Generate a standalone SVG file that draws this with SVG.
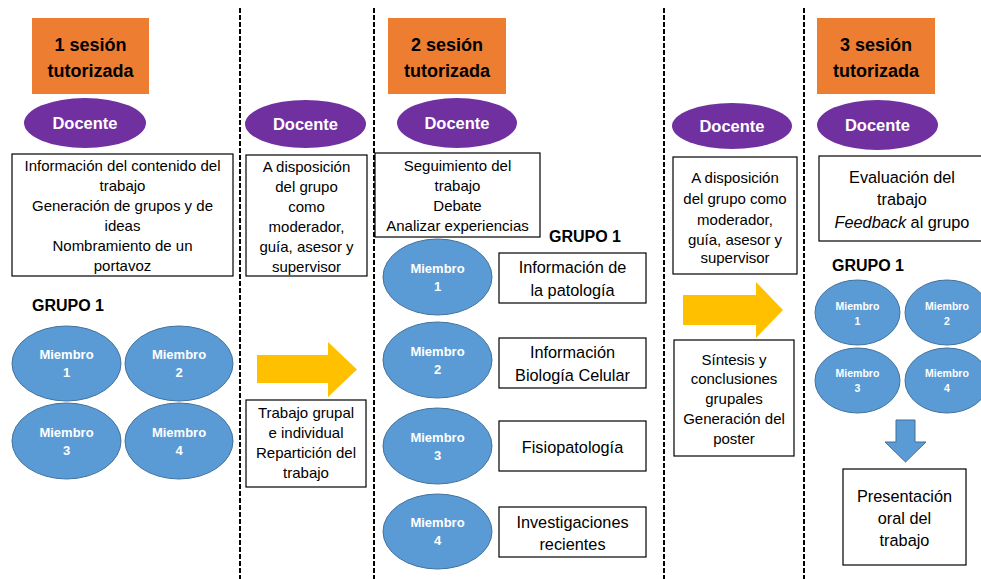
<svg xmlns="http://www.w3.org/2000/svg" width="981" height="579" viewBox="0 0 981 579">
<style>
text{font-family:"Liberation Sans",Arial,sans-serif;text-anchor:middle;fill:#000}
.ses{fill:#ED7D31}
.st{font-weight:bold;font-size:18px}
.doc{fill:#7030A0}
.dt{fill:#fff;font-weight:bold;font-size:16.5px}
.box{fill:#fff;stroke:#000;stroke-width:1.2}
.t{font-size:15px}
.t2{font-size:16.3px}
.mem{fill:#5B9BD5;stroke:#41719C;stroke-width:1}
.mt{fill:#fff;font-weight:bold;font-size:13px}
.ms{fill:#fff;font-weight:bold;font-size:10.5px}
.g{font-weight:bold;font-size:16px}
.dash{stroke:#000;stroke-width:2;stroke-dasharray:5,2;fill:none}
.ya{fill:#FFC000}
.ba{fill:#5B9BD5;stroke:#41719C;stroke-width:1}
</style>
<rect width="981" height="579" fill="#fff"/>
<g id="dividers">
<line class="dash" x1="240" y1="8" x2="240" y2="579"/>
<line class="dash" x1="374" y1="8" x2="374" y2="579"/>
<line class="dash" x1="664" y1="8" x2="664" y2="579"/>
<line class="dash" x1="804" y1="8" x2="804" y2="579"/>
</g>
<g id="sesion1">
<rect class="ses" x="32" y="18" width="117" height="76"/>
<text class="st" x="90.5" y="51">1 sesión</text>
<text class="st" x="90.5" y="77">tutorizada</text>
</g>
<g id="docente1">
<ellipse class="doc" cx="85" cy="123" rx="61" ry="25"/>
<text class="dt" x="85" y="129">Docente</text>
</g>
<g id="info1">
<rect class="box" x="12" y="154" width="221" height="122"/>
<text class="t" x="122.5" y="171">Información del contenido del</text>
<text class="t" x="122.5" y="191">trabajo</text>
<text class="t" x="122.5" y="211">Generación de grupos y de</text>
<text class="t" x="122.5" y="231">ideas</text>
<text class="t" x="122.5" y="251">Nombramiento de un</text>
<text class="t" x="122.5" y="271">portavoz</text>
</g>
<g id="grupo1a">
<text class="g" x="68" y="311">GRUPO 1</text>
<ellipse class="mem" cx="66.5" cy="363.5" rx="54.5" ry="37.5"/>
<text class="mt" x="66.5" y="359">Miembro</text><text class="mt" x="66.5" y="377">1</text>
<ellipse class="mem" cx="179" cy="363.5" rx="54" ry="37.5"/>
<text class="mt" x="179" y="359">Miembro</text><text class="mt" x="179" y="377">2</text>
<ellipse class="mem" cx="66.5" cy="441" rx="54.5" ry="38"/>
<text class="mt" x="66.5" y="437">Miembro</text><text class="mt" x="66.5" y="455">3</text>
<ellipse class="mem" cx="179" cy="441" rx="54" ry="38"/>
<text class="mt" x="179" y="437">Miembro</text><text class="mt" x="179" y="455">4</text>
</g>
<g id="docente2">
<ellipse class="doc" cx="305.5" cy="124" rx="60.5" ry="24"/>
<text class="dt" x="305.5" y="130">Docente</text>
</g>
<g id="info2">
<rect class="box" x="246" y="155" width="121" height="121"/>
<text class="t" x="306.5" y="172">A disposición</text>
<text class="t" x="306.5" y="192">del grupo</text>
<text class="t" x="306.5" y="212">como</text>
<text class="t" x="306.5" y="232">moderador,</text>
<text class="t" x="306.5" y="252">guía, asesor y</text>
<text class="t" x="306.5" y="272">supervisor</text>
</g>
<g id="arrow1">
<polygon class="ya" points="257,355 328,355 328,342 357,369.5 328,397 328,383 257,383"/>
</g>
<g id="trabajo1">
<rect class="box" x="246" y="400" width="120" height="87"/>
<text class="t" x="306" y="418">Trabajo grupal</text>
<text class="t" x="306" y="438">e individual</text>
<text class="t" x="306" y="458">Repartición del</text>
<text class="t" x="306" y="478">trabajo</text>
</g>
<g id="sesion2">
<rect class="ses" x="388" y="18" width="118" height="76"/>
<text class="st" x="447" y="51">2 sesión</text>
<text class="st" x="447" y="77">tutorizada</text>
</g>
<g id="docente3">
<ellipse class="doc" cx="457" cy="123" rx="60" ry="25"/>
<text class="dt" x="457" y="129">Docente</text>
</g>
<g id="info3">
<rect class="box" x="375" y="153" width="165" height="84"/>
<text class="t" x="457.5" y="171">Seguimiento del</text>
<text class="t" x="457.5" y="191">trabajo</text>
<text class="t" x="457.5" y="211">Debate</text>
<text class="t" x="457.5" y="231">Analizar experiencias</text>
</g>
<g id="grupo1b">
<text class="g" x="585" y="242">GRUPO 1</text>
<ellipse class="mem" cx="437.5" cy="277" rx="54.5" ry="38"/>
<text class="mt" x="437.5" y="273">Miembro</text><text class="mt" x="437.5" y="291">1</text>
<ellipse class="mem" cx="437.5" cy="360" rx="54.5" ry="38"/>
<text class="mt" x="437.5" y="356">Miembro</text><text class="mt" x="437.5" y="374">2</text>
<ellipse class="mem" cx="437.5" cy="446" rx="54.5" ry="38"/>
<text class="mt" x="437.5" y="442">Miembro</text><text class="mt" x="437.5" y="460">3</text>
<ellipse class="mem" cx="437.5" cy="531.5" rx="54.5" ry="37.5"/>
<text class="mt" x="437.5" y="527">Miembro</text><text class="mt" x="437.5" y="545">4</text>
</g>
<g id="tarea1">
<rect class="box" x="499" y="253" width="147" height="50"/>
<text class="t2" x="572.5" y="273">Información de</text>
<text class="t2" x="572.5" y="296">la patología</text>
</g>
<g id="tarea2">
<rect class="box" x="499" y="338" width="147" height="50"/>
<text class="t2" x="572.5" y="358">Información</text>
<text class="t2" x="572.5" y="381">Biología Celular</text>
</g>
<g id="tarea3">
<rect class="box" x="499" y="421" width="147" height="50"/>
<text class="t2" x="572.5" y="453">Fisiopatología</text>
</g>
<g id="tarea4">
<rect class="box" x="499" y="507" width="147" height="50"/>
<text class="t2" x="572.5" y="528">Investigaciones</text>
<text class="t2" x="572.5" y="550">recientes</text>
</g>
<g id="docente4">
<ellipse class="doc" cx="732" cy="126" rx="60" ry="23"/>
<text class="dt" x="732" y="132">Docente</text>
</g>
<g id="info4">
<rect class="box" x="673" y="157" width="124" height="117"/>
<text class="t" x="735" y="183">A disposición</text>
<text class="t" x="735" y="204">del grupo como</text>
<text class="t" x="735" y="225">moderador,</text>
<text class="t" x="735" y="245">guía, asesor y</text>
<text class="t" x="735" y="263">supervisor</text>
</g>
<g id="arrow2">
<polygon class="ya" points="683,295 756,295 756,282 783,310 756,338 756,325 683,325"/>
</g>
<g id="sintesis">
<rect class="box" x="674" y="340" width="120" height="116"/>
<text class="t" x="734" y="365">Síntesis y</text>
<text class="t" x="734" y="384">conclusiones</text>
<text class="t" x="734" y="404">grupales</text>
<text class="t" x="734" y="424">Generación del</text>
<text class="t" x="734" y="444">poster</text>
</g>
<g id="sesion3">
<rect class="ses" x="817" y="18" width="118" height="76"/>
<text class="st" x="876" y="51">3 sesión</text>
<text class="st" x="876" y="77">tutorizada</text>
</g>
<g id="docente5">
<ellipse class="doc" cx="877.5" cy="125" rx="60.5" ry="25"/>
<text class="dt" x="877.5" y="131">Docente</text>
</g>
<g id="info5">
<rect class="box" x="819" y="156" width="166" height="85"/>
<text class="t2" x="902" y="183">Evaluación del</text>
<text class="t2" x="902" y="205">trabajo</text>
<text class="t2" x="902" y="228"><tspan font-style="italic">Feedback</tspan> al grupo</text>
</g>
<g id="grupo1c">
<text class="g" x="868" y="271">GRUPO 1</text>
<ellipse class="mem" cx="857.5" cy="312.5" rx="42.5" ry="32.5"/>
<text class="ms" x="857.5" y="310">Miembro</text><text class="ms" x="857.5" y="325">1</text>
<ellipse class="mem" cx="947" cy="312.5" rx="42" ry="32.5"/>
<text class="ms" x="947" y="310">Miembro</text><text class="ms" x="947" y="325">2</text>
<ellipse class="mem" cx="857.5" cy="380.5" rx="42.5" ry="32.5"/>
<text class="ms" x="857.5" y="377">Miembro</text><text class="ms" x="857.5" y="392">3</text>
<ellipse class="mem" cx="947" cy="380.5" rx="42" ry="32.5"/>
<text class="ms" x="947" y="377">Miembro</text><text class="ms" x="947" y="392">4</text>
</g>
<g id="arrow3">
<polygon class="ba" points="896,420 915,420 915,442 926,442 905.5,462 885,442 896,442"/>
</g>
<g id="presentacion">
<rect class="box" x="843" y="469" width="123" height="96"/>
<text class="t2" x="904.5" y="502">Presentación</text>
<text class="t2" x="904.5" y="524">oral del</text>
<text class="t2" x="904.5" y="546">trabajo</text>
</g>
</svg>
